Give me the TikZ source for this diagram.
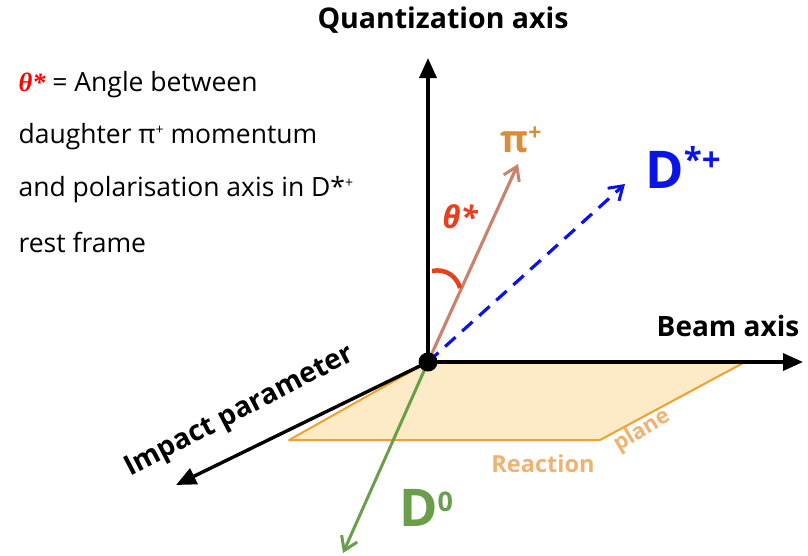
\documentclass[tikz,border=0pt]{standalone}
\usepackage{fontspec}
\setmainfont{Open Sans}
\newfontfamily\serifbi{Liberation Serif}
\usetikzlibrary{arrows.meta}
\definecolor{planefill}{HTML}{FCEBC6}
\definecolor{planeedge}{HTML}{F0A02E}
\definecolor{reactcol}{HTML}{EFB270}
\definecolor{dzero}{HTML}{6A9E4A}
\definecolor{dstar}{HTML}{0A14E6}
\definecolor{piarrow}{HTML}{C8826E}
\definecolor{pilabel}{HTML}{D98C3A}
\definecolor{thetacol}{HTML}{E8401E}
\tikzset{
  axis/.style={line width=3.4pt,-{Triangle[length=20pt,width=17pt]}},
  barb/.style={-{Straight Barb[length=13pt,width=17pt,line width=3pt]}},
  lbl/.style={font=\bfseries\fontsize{28}{32}\selectfont},
  lefttxt/.style={anchor=west,font=\fontsize{26.5}{30}\selectfont},
}
\begin{document}
\begin{tikzpicture}[x=1pt,y=-1pt]
\useasboundingbox (0,0) rectangle (808,555);
\coordinate (O) at (428,362);
\coordinate (qa) at (428,58);
\coordinate (ba) at (803,362);
\coordinate (ip) at (176,485);
\coordinate (d0) at (343,553);
\coordinate (pi) at (518,164);
\coordinate (ds) at (625,184);
\coordinate (pr) at (745,362);
\coordinate (pbr) at (600,440);
\coordinate (pbl) at (289,440);
\coordinate (arcA) at (432,271);
\coordinate (arcB) at (460,288);
% reaction plane
\draw[planeedge,line width=2pt,fill=planefill,line join=round] (O) -- (pr) -- (pbr) -- (pbl) -- cycle;
% axes
\draw[axis] (O) -- (qa);
\draw[axis] (O) -- (ba);
\draw[axis] (O) -- (ip);
\draw[dzero,line width=3pt,barb] (O) -- (d0);
\draw[piarrow,line width=3.2pt,barb] (O) -- (pi);
\draw[dstar,line width=3.2pt,dash pattern=on 14pt off 9pt,barb] (O) -- (ds);
% theta arc
\draw[thetacol,line width=4.5pt] (arcA) .. controls (446,268) and (457,277) .. (arcB);
\fill (O) circle (9.5pt);
% labels
\node[lbl,font=\bfseries\fontsize{28.5}{32}\selectfont] (tq) at (443,20) {Quantization axis};
\node[lbl] (tb) at (728,326) {Beam axis};
\node[lbl,rotate=27.5] (ti) at (240,412) {Impact parameter};
\node[font=\bfseries\fontsize{23.5}{27}\selectfont,text=reactcol] (tr) at (543,464) {Reaction};
\node[font=\bfseries\fontsize{22}{26}\selectfont,text=reactcol,rotate=31] (tp) at (642,431) {plane};
\node[font=\bfseries\fontsize{52}{56}\selectfont,text=dzero] (td) at (426,508) {D\raisebox{15pt}{\fontsize{27}{30}\selectfont 0}};
\node[font=\bfseries\fontsize{52}{56}\selectfont,text=dstar] (tds) at (683,167) {D\raisebox{17pt}{\fontsize{33}{36}\selectfont *+}};
\node[font=\bfseries\fontsize{38}{40}\selectfont,text=pilabel] (tpi) at (521,140) {π\raisebox{12pt}{\fontsize{23}{26}\selectfont +}};
\node[font=\bfseries\itshape\fontsize{31}{34}\selectfont,text=thetacol] (tt) at (460,217) {θ*};
% left text
\node[lefttxt] (l1) at (15,85) {{\serifbi\bfseries\itshape\color{red}θ*} = Angle between};
\node[lefttxt] (l2) at (15,137) {daughter π\raisebox{9pt}{\fontsize{14}{15}\selectfont +} momentum};
\node[lefttxt] (l3) at (15,190) {and polarisation axis in D*\raisebox{9pt}{\fontsize{14}{15}\selectfont +}};
\node[lefttxt] (l4) at (15,242) {rest frame};
\end{tikzpicture}
\end{document}
